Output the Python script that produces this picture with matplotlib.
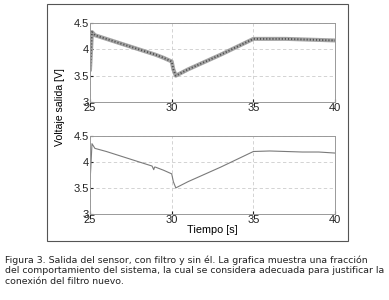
import matplotlib.pyplot as plt
from matplotlib.patches import Rectangle

# datos (tiempo en s, voltaje en V)
t_sin = [25.0, 25.05, 25.12, 25.3, 26.0, 27.0, 28.0, 29.0, 29.5, 30.0, 30.1, 30.25, 30.5, 31.0, 32.0, 33.0, 34.0, 35.0, 36.0, 37.0, 38.0, 39.0, 40.0]
v_sin = [3.62, 3.9, 4.33, 4.27, 4.2, 4.1, 4.0, 3.9, 3.84, 3.77, 3.62, 3.5, 3.54, 3.62, 3.76, 3.9, 4.05, 4.2, 4.2, 4.2, 4.19, 4.18, 4.17]

t_con = [25.0, 25.05, 25.12, 25.3, 26.0, 27.0, 28.0, 28.8, 28.9, 28.95, 29.0, 29.5, 30.0, 30.1, 30.25, 30.5, 31.0, 32.0, 33.0, 34.0, 35.0, 36.0, 37.0, 38.0, 39.0, 40.0]
v_con = [3.62, 3.9, 4.35, 4.26, 4.2, 4.1, 4.0, 3.92, 3.85, 3.9, 3.9, 3.84, 3.77, 3.62, 3.5, 3.54, 3.62, 3.76, 3.9, 4.05, 4.2, 4.21, 4.2, 4.19, 4.19, 4.17]

xticks = [25, 30, 35, 40]
yticks = [3, 3.5, 4, 4.5]
yticklabels = ['3', '3.5', '4', '4.5']

plt.rcParams['font.family'] = ['Liberation Sans', 'DejaVu Sans']

fig = plt.figure(figsize=(3.89, 3.0), dpi=100)

# recuadro exterior
fig.patches.append(Rectangle((0.121, 0.197), 0.774, 0.79, transform=fig.transFigure,
                             fill=False, edgecolor='#555555', linewidth=0.8))

ax1 = fig.add_axes([0.2314, 0.66, 0.63, 0.263])
ax2 = fig.add_axes([0.2314, 0.287, 0.63, 0.26])

# señal sin filtro: banda de ruido
ax1.plot(t_sin, v_sin, color='#a5a5a5', linewidth=2.9)
ax1.plot(t_sin, v_sin, color='#3c3c3c', linewidth=1.4, dashes=(0.6, 1.0), alpha=0.8)
# señal con filtro
ax2.plot(t_con, v_con, color='#7a7a7a', linewidth=0.8)

for ax in (ax1, ax2):
    ax.set_xlim(25, 40)
    ax.set_ylim(3, 4.5)
    ax.set_xticks(xticks)
    ax.set_yticks(yticks)
    ax.set_yticklabels(yticklabels)
    ax.grid(True, linestyle=(0, (4, 3)), color='#cccccc', linewidth=0.6)
    ax.tick_params(direction='in', length=2, labelsize=8, pad=1, colors='#222222')
    for s in ax.spines.values():
        s.set_color('#999999')
        s.set_linewidth(0.7)

ax2.set_xlabel('Tiempo [s]', fontsize=7.8, labelpad=0)
fig.text(0.155, 0.642, 'Voltaje salida [V]', rotation=90, ha='center', va='center', fontsize=7.6)

caption = ("Figura 3. Salida del sensor, con filtro y sin él. La grafica muestra una fracción\n"
           "del comportamiento del sistema, la cual se considera adecuada para justificar la\n"
           "conexión del filtro nuevo.")
fig.text(0.013, 0.148, caption, ha='left', va='top', fontsize=6.75, family=['DejaVu Sans'],
         linespacing=1.18, color='#222222')

fig.savefig('out.png', dpi=100)
